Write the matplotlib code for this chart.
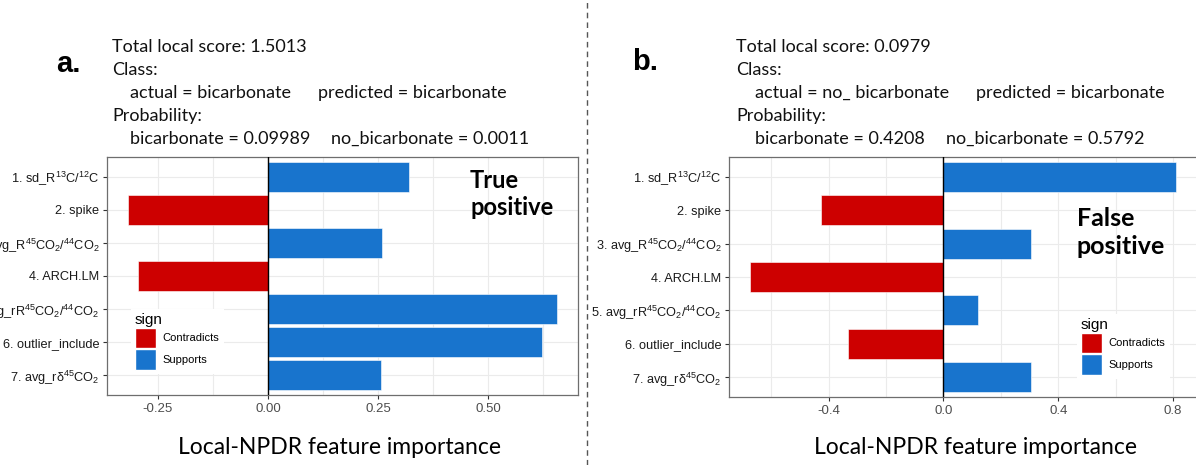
import matplotlib
matplotlib.use("Agg")
import matplotlib.pyplot as plt
from matplotlib.patches import Patch
from matplotlib.lines import Line2D

plt.rcParams['font.family'] = ['Liberation Sans', 'DejaVu Sans']
plt.rcParams['mathtext.default'] = 'regular'

# feature names (ranked) and local NPDR scores for the two samples
features = [
    "1. sd_R$^{13}$C/$^{12}$C",
    "2. spike",
    "3. avg_R$^{45}$CO$_2$/$^{44}$CO$_2$",
    "4. ARCH.LM",
    "5. avg_rR$^{45}$CO$_2$/$^{44}$CO$_2$",
    "6. outlier_include",
    "7. avg_r$\\delta^{45}$CO$_2$",
]
scores_a = [0.320, -0.317, 0.260, -0.295, 0.656, 0.623, 0.258]
scores_b = [0.809, -0.427, 0.305, -0.673, 0.121, -0.334, 0.305]

ticks_a = [-0.25, 0.0, 0.25, 0.50]
ticklabels_a = ["-0.25", "0.00", "0.25", "0.50"]
ticks_b = [-0.4, 0.0, 0.4, 0.8]
ticklabels_b = ["-0.4", "0.0", "0.4", "0.8"]

# header lines: (left part, right part or None)
header_a = [("Total local score: 1.5013", None), ("Class:", None),
            ("actual = bicarbonate", "predicted = bicarbonate"),
            ("Probability:", None),
            ("bicarbonate = 0.09989", "no_bicarbonate = 0.0011")]
header_b = [("Total local score: 0.0979", None), ("Class:", None),
            ("actual = no_ bicarbonate", "predicted = bicarbonate"),
            ("Probability:", None),
            ("bicarbonate = 0.4208", "no_bicarbonate = 0.5792")]

RED = "#CD0000"
BLUE = "#1874CD"
W, H = 1196, 465

fig = plt.figure(figsize=(W / 100, H / 100), dpi=100)


def fx(x):
    return x / W


def fy(y):
    return 1 - y / H


def draw_panel(rect, scores, ticks, ticklabels):
    x0, y0, x1, y1 = rect
    ax = fig.add_axes([fx(x0), fy(y1), (x1 - x0) / W, (y1 - y0) / H])
    n = len(features)
    ypos = [n - i for i in range(n)]
    colors = [BLUE if s > 0 else RED for s in scores]
    ax.barh(ypos, scores, height=0.9, color=colors, edgecolor="white",
            linewidth=0.4, zorder=3)
    ax.axvline(0, color="black", lw=1.0, zorder=4)
    lo, hi = min(scores), max(scores)
    pad = (hi - lo) * 0.05
    ax.set_yticks(ypos)
    ax.set_yticklabels(features, fontsize=9.2, color="#1a1a1a")
    ax.set_xticks(ticks)
    ax.set_xticklabels(ticklabels, fontsize=9.5, color="#4d4d4d")
    step = ticks[1] - ticks[0]
    minor = [t + step / 2 for t in [ticks[0] - step] + ticks]
    minor = [m for m in minor if lo - pad <= m <= hi + pad]
    ax.set_xticks(minor, minor=True)
    ax.set_xlim(lo - pad, hi + pad)
    ax.set_ylim(0.4, n + 0.6)
    ax.tick_params(which="minor", length=0)
    ax.tick_params(which="major", length=3, color="#333333", width=0.8,
                   pad=2.5)
    ax.grid(True, which="both", color="#ebebeb", lw=0.8, zorder=0)
    for sp in ax.spines.values():
        sp.set_color("#6e6e6e")
        sp.set_linewidth(0.9)
    return ax


ax_a = draw_panel((107, 157, 578, 395), scores_a, ticks_a, ticklabels_a)
ax_b = draw_panel((729, 157, 1197, 397), scores_b, ticks_b, ticklabels_b)

handles = [Patch(facecolor=RED, edgecolor="white", label="Contradicts"),
           Patch(facecolor=BLUE, edgecolor="white", label="Supports")]
for ax, (lx, ly) in ((ax_a, (125, 303)), (ax_b, (1071, 308))):
    leg = ax.legend(handles=handles, title="sign", loc="upper left",
                    bbox_to_anchor=(fx(lx), fy(ly)),
                    bbox_transform=fig.transFigure, fontsize=8,
                    title_fontsize=11, frameon=True, fancybox=False,
                    edgecolor="none", framealpha=1, handlelength=1.9,
                    handleheight=2.5, labelspacing=0.05, borderpad=0.4,
                    handletextpad=0.6)
    leg._legend_box.align = "left"
    leg.set_zorder(5)

# panel headers
hdr_font = ['Lato', 'DejaVu Sans']
for x0, x_ind, x_right, lines in ((112, 130, (318, 331), header_a),
                                  (736, 755, (976, 946), header_b)):
    for k, (left, right) in enumerate(lines):
        y = fy(47 + 23 * k)
        xl = x0 if right is None else x_ind
        fig.text(fx(xl), y, left, fontsize=13, family=hdr_font,
                 va="center", ha="left", color="#111111")
        if right is not None:
            xr = x_right[0] if k == 2 else x_right[1]
            fig.text(fx(xr), y, right, fontsize=13, family=hdr_font,
                     va="center", ha="left", color="#111111")

fig.text(fx(56), fy(64), "a.", fontsize=21, fontweight="bold",
         family=['Liberation Sans'], va="center")
fig.text(fx(632), fy(62), "b.", fontsize=21, fontweight="bold",
         family=['Liberation Sans'], va="center")

fig.text(fx(470), fy(180), "True", fontsize=17, fontweight="bold",
         family=hdr_font, va="center")
fig.text(fx(470), fy(207), "positive", fontsize=17, fontweight="bold",
         family=hdr_font, va="center")
fig.text(fx(1077), fy(218), "False", fontsize=18, fontweight="bold",
         family=hdr_font, va="center")
fig.text(fx(1077), fy(246), "positive", fontsize=18, fontweight="bold",
         family=hdr_font, va="center")

fig.text(fx(339), fy(447), "Local-NPDR feature importance", fontsize=16.5,
         family=hdr_font, ha="center", va="center")
fig.text(fx(975), fy(447), "Local-NPDR feature importance", fontsize=16.5,
         family=hdr_font, ha="center", va="center")

# dashed divider between the two panels
fig.add_artist(Line2D([fx(587), fx(587)], [0, 1], transform=fig.transFigure,
                      color="#555555", lw=1.0, ls=(0, (4, 3))))

fig.savefig("out.png", dpi=100)
